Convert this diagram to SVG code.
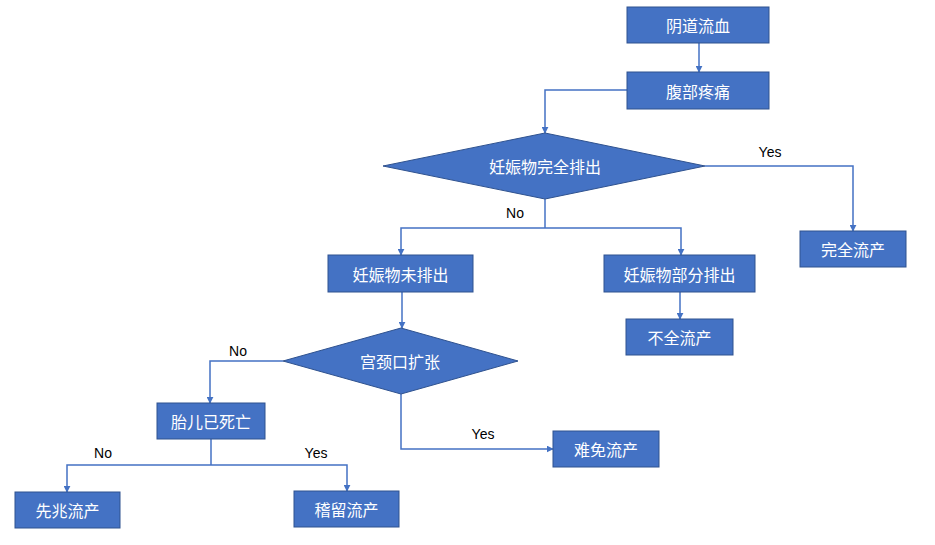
<svg xmlns="http://www.w3.org/2000/svg" width="935" height="545" viewBox="0 0 935 545">
<defs>
<marker id="ah" viewBox="0 0 10 10" refX="9" refY="5" markerWidth="7" markerHeight="7" markerUnits="userSpaceOnUse" orient="auto">
<path d="M0,0 L10,5 L0,10 z" fill="#4472C4"/>
</marker>
<style>
.box{fill:#4472C4;stroke:#2F528F;stroke-width:1}
.t{fill:#ffffff;font-family:"Noto Sans CJK SC","Liberation Sans",sans-serif;font-size:16px;text-anchor:middle;dominant-baseline:central}
.lbl{fill:#000000;font-family:"Liberation Sans","Noto Sans CJK SC",sans-serif;font-size:14px;text-anchor:middle;dominant-baseline:central}
.c{fill:none;stroke:#4472C4;stroke-width:1.5}
.ca{fill:none;stroke:#4472C4;stroke-width:1.5;marker-end:url(#ah)}
</style>
</defs>
<rect width="935" height="545" fill="#ffffff"/>
<g id="connectors">
<path class="ca" d="M699,43 V72"/>
<path class="ca" d="M627,90 H545 V133"/>
<path class="ca" d="M705,166 H853 V231"/>
<path class="c" d="M545,199 V228"/>
<path class="ca" d="M545,228 H401 V255"/>
<path class="ca" d="M545,228 H681 V255"/>
<path class="ca" d="M680,292 V319"/>
<path class="ca" d="M402,292 V328"/>
<path class="ca" d="M283,361 H210 V403"/>
<path class="ca" d="M401,394 V449 H553"/>
<path class="c" d="M211,439 V465"/>
<path class="ca" d="M211,465 H67 V492"/>
<path class="ca" d="M211,465 H347 V491"/>
<text class="lbl" x="770" y="152">Yes</text>
<text class="lbl" x="515" y="213">No</text>
<text class="lbl" x="238" y="351">No</text>
<text class="lbl" x="483" y="434">Yes</text>
<text class="lbl" x="103" y="453">No</text>
<text class="lbl" x="316" y="453">Yes</text>
</g>
<g id="n1"><rect class="box" x="627" y="7" width="142" height="36"/><text class="t" x="698" y="25">阴道流血</text></g>
<g id="n2"><rect class="box" x="627" y="72" width="142" height="37"/><text class="t" x="698" y="90.5">腹部疼痛</text></g>
<g id="d1"><polygon class="box" points="545,133 705,166 545,199 383,166"/><text class="t" x="545" y="166">妊娠物完全排出</text></g>
<g id="n3"><rect class="box" x="800" y="231" width="106" height="36"/><text class="t" x="853" y="249">完全流产</text></g>
<g id="n4"><rect class="box" x="328" y="255" width="145" height="37"/><text class="t" x="400.5" y="273.5">妊娠物未排出</text></g>
<g id="n5"><rect class="box" x="604" y="255" width="151" height="37"/><text class="t" x="679.5" y="273.5">妊娠物部分排出</text></g>
<g id="n6"><rect class="box" x="626" y="319" width="107" height="36"/><text class="t" x="679.5" y="337">不全流产</text></g>
<g id="d2"><polygon class="box" points="401,328 518,361 401,394 283,361"/><text class="t" x="400" y="361">宫颈口扩张</text></g>
<g id="n7"><rect class="box" x="157" y="403" width="108" height="36"/><text class="t" x="211" y="421">胎儿已死亡</text></g>
<g id="n8"><rect class="box" x="553" y="431" width="106" height="36"/><text class="t" x="606" y="449">难免流产</text></g>
<g id="n9"><rect class="box" x="15" y="492" width="105" height="36"/><text class="t" x="67.5" y="510">先兆流产</text></g>
<g id="n10"><rect class="box" x="294" y="491" width="105" height="36"/><text class="t" x="346.5" y="509">稽留流产</text></g>
</svg>
